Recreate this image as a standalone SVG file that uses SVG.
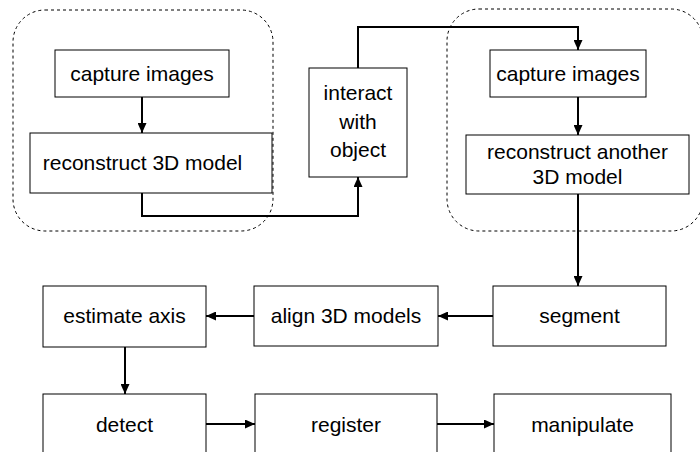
<svg xmlns="http://www.w3.org/2000/svg" width="700" height="452" viewBox="0 0 700 452">
<style>
.box{fill:#fff;stroke:#000;stroke-width:1}
.grp{fill:none;stroke:#000;stroke-width:1;stroke-dasharray:3,3}
.t{font-family:"Liberation Sans",Arial,sans-serif;font-size:21px;fill:#000;text-anchor:middle}
.c{fill:none;stroke:#000;stroke-width:2;marker-end:url(#ah)}
</style>
<defs>
<marker id="ah" markerUnits="userSpaceOnUse" markerWidth="11" markerHeight="9" refX="10" refY="4.5" orient="auto">
<path d="M0,0 L10,4.5 L0,9 z" fill="#000"/>
</marker>
</defs>
<rect width="700" height="452" fill="#fff"/>
<g id="group1"><rect class="grp" x="13" y="10" width="260" height="221" rx="32"/></g>
<g id="group2"><rect class="grp" x="447" y="9" width="256" height="222" rx="32"/></g>
<g id="connectors">
<path class="c" d="M142,97 V133"/>
<path class="c" d="M142,193 V216 H358 V177"/>
<path class="c" d="M358,68 V27 H578 V50"/>
<path class="c" d="M578,97 V135"/>
<path class="c" d="M578,194 V286"/>
<path class="c" d="M493,316 H438"/>
<path class="c" d="M254,316 H206"/>
<path class="c" d="M125,347 V394"/>
<path class="c" d="M206,424 H255"/>
<path class="c" d="M437,424 H494"/>
</g>
<g id="capture1"><rect class="box" x="55" y="50" width="174" height="47"/><text class="t" x="142" y="81">capture images</text></g>
<g id="reconstruct1"><rect class="box" x="30" y="133" width="242" height="60"/><text class="t" x="142.5" y="170">reconstruct 3D model</text></g>
<g id="interact"><rect class="box" x="309" y="68" width="98" height="109"/><text class="t" x="358" y="100">interact</text><text class="t" x="358" y="128.5">with</text><text class="t" x="358" y="157">object</text></g>
<g id="capture2"><rect class="box" x="490" y="50" width="156" height="47"/><text class="t" x="568" y="81">capture images</text></g>
<g id="reconstruct2"><rect class="box" x="466" y="135" width="223" height="59"/><text class="t" x="577.5" y="159">reconstruct another</text><text class="t" x="577.5" y="184">3D model</text></g>
<g id="segment"><rect class="box" x="493" y="286" width="173" height="60"/><text class="t" x="579.5" y="323">segment</text></g>
<g id="align"><rect class="box" x="254" y="286" width="184" height="60"/><text class="t" x="346" y="323">align 3D models</text></g>
<g id="estimate"><rect class="box" x="43" y="286" width="163" height="61"/><text class="t" x="124.5" y="323">estimate axis</text></g>
<g id="detect"><rect class="box" x="43" y="394" width="163" height="70"/><text class="t" x="124.5" y="432">detect</text></g>
<g id="register"><rect class="box" x="255" y="394" width="182" height="70"/><text class="t" x="346" y="432">register</text></g>
<g id="manipulate"><rect class="box" x="494" y="394" width="177" height="70"/><text class="t" x="582.5" y="432">manipulate</text></g>
</svg>
